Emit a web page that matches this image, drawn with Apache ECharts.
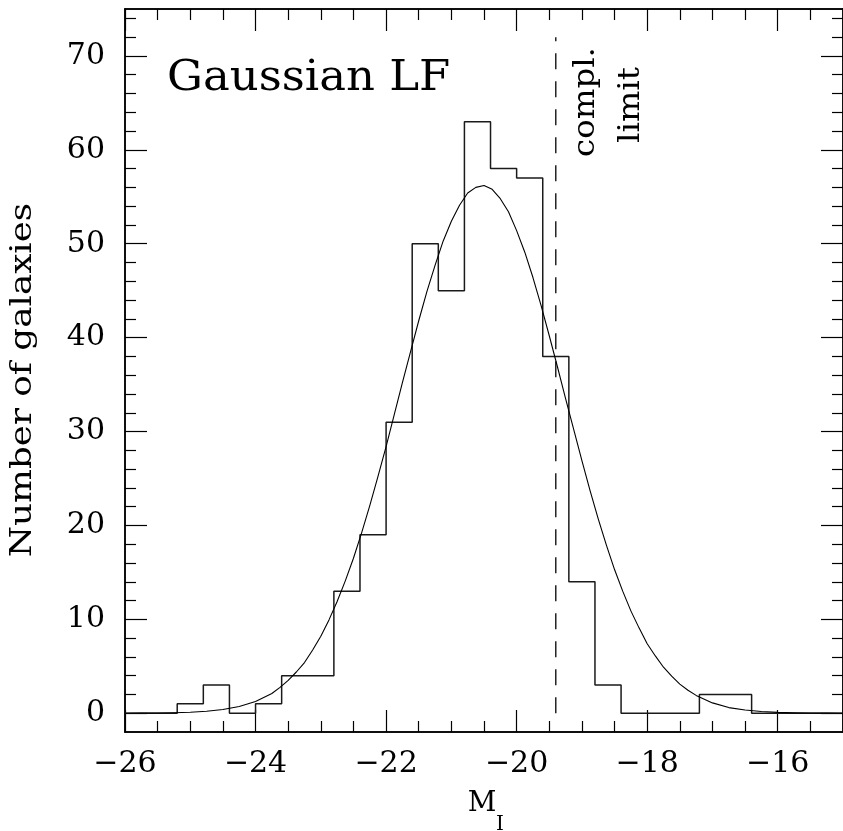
<!DOCTYPE html>
<html>
<head>
<meta charset="utf-8">
<script src="https://cdn.jsdelivr.net/npm/echarts@6/dist/echarts.min.js"></script>
<style>
html,body{margin:0;padding:0;background:#fff;}
#chart{width:843px;height:831px;}
</style>
</head>
<body>
<div id="chart"></div>
<script>
// ---- data ----
const xMin = -26, xMax = -15, yMin = -2, yMax = 75;
const xMajorTicks = [-26, -24, -22, -20, -18, -16];
const xMinorTicks = [-25.5, -25, -24.5, -23.5, -23, -22.5, -21.5, -21, -20.5, -19.5, -19, -18.5, -17.5, -17, -16.5, -15.5];
const yMajorTicks = [0, 10, 20, 30, 40, 50, 60, 70];
const yMinorTicks = [2, 4, 6, 8, 12, 14, 16, 18, 22, 24, 26, 28, 32, 34, 36, 38, 42, 44, 46, 48, 52, 54, 56, 58, 62, 64, 66, 68, 72, 74];

// histogram: left bin edges (bin width 0.4 mag) and counts
const binWidth = 0.4;
const binLeftEdges = [-26.0, -25.6, -25.2, -24.8, -24.4, -24.0, -23.6, -23.2, -22.8, -22.4, -22.0, -21.6, -21.2, -20.8,
                      -20.4, -20.0, -19.6, -19.2, -18.8, -18.4, -18.0, -17.6, -17.2, -16.8, -16.4, -16.0, -15.6, -15.2];
const binCounts    = [0, 0, 1, 3, 0, 1, 4, 4, 13, 19, 31, 50, 45, 63,
                      58, 57, 38, 14, 3, 0, 0, 0, 2, 2, 0, 0, 0, 0];

// fitted Gaussian LF curve
const curveX = [-26, -25.75, -25.5, -25.25, -25, -24.75, -24.5, -24.25, -24, -23.75,
                -23.625, -23.5, -23.375, -23.25, -23.125, -23, -22.875, -22.75, -22.625, -22.5,
                -22.375, -22.25, -22.125, -22, -21.875, -21.75, -21.625, -21.5, -21.375, -21.25,
                -21.125, -21, -20.875, -20.75, -20.625, -20.5, -20.375, -20.25, -20.125, -20,
                -19.875, -19.75, -19.625, -19.5, -19.375, -19.25, -19.125, -19, -18.875, -18.75,
                -18.625, -18.5, -18.375, -18.25, -18.125, -18, -17.875, -17.75, -17.625, -17.5,
                -17.375, -17.25, -17, -16.75, -16.5, -16.25, -16, -15.75, -15.5, -15.25, -15];
const curveY = [0.00, 0.01, 0.02, 0.05, 0.10, 0.21, 0.39, 0.72, 1.25, 2.1,
                2.75, 3.5, 4.39, 5.4, 6.74, 8.2, 9.94, 11.9, 14.1, 16.5,
                19.2, 22.1, 25.2, 28.4, 31.8, 35.2, 38.5, 41.8, 44.9, 47.7,
                50.3, 52.4, 54.1, 55.4, 56.0, 56.2, 55.8, 54.8, 53.4, 51.4,
                49.1, 46.4, 43.4, 40.2, 36.9, 33.5, 30.2, 26.9, 23.7, 20.7,
                17.9, 15.3, 13.0, 10.9, 9.09, 7.4, 6.1, 4.9, 3.94, 3.1,
                2.44, 1.9, 1.1, 0.6, 0.34, 0.18, 0.09, 0.04, 0.02, 0.01, 0.00];

// completeness limit (dashed line)
const complX = [-19.4, -19.4];
const complY = [0, 72];

// ---- build chart ----
const FONT = '"DejaVu Serif", "Liberation Serif", serif';
const histData = binLeftEdges.map((e, i) => [e, binCounts[i]]);
histData.push([binLeftEdges[binLeftEdges.length - 1] + binWidth, binCounts[binCounts.length - 1]]);
const curveData = curveX.map((x, i) => [x, curveY[i]]);
const complData = complX.map((x, i) => [x, complY[i]]);

const minus = v => (v < 0 ? '\u2212' + Math.abs(v) : String(v));
const lineStyle = { color: '#000', width: 1.5 };

function xAx(pos, ticks, len, labels) {
  return {
    type: 'value', min: xMin, max: xMax, position: pos,
    axisLine: { show: true, onZero: false, lineStyle: lineStyle },
    axisTick: { show: true, inside: true, length: len, customValues: ticks, lineStyle: { color: '#000', width: 1.2 } },
    axisLabel: labels ? { show: true, customValues: ticks, formatter: minus, fontFamily: FONT, fontSize: 30, color: '#000', margin: 17 } : { show: false },
    splitLine: { show: false }
  };
}
function yAx(pos, ticks, len, labels) {
  return {
    type: 'value', min: yMin, max: yMax, position: pos,
    axisLine: { show: true, onZero: false, lineStyle: lineStyle },
    axisTick: { show: true, inside: true, length: len, customValues: ticks, lineStyle: { color: '#000', width: 1.2 } },
    axisLabel: labels ? { show: true, customValues: ticks, fontFamily: FONT, fontSize: 30, color: '#000', margin: 20 } : { show: false },
    splitLine: { show: false }
  };
}

const chart = echarts.init(document.getElementById('chart'), null, { renderer: 'canvas' });
chart.setOption({
  animation: false,
  backgroundColor: '#fff',
  grid: { left: 125, top: 9, width: 722, height: 723 },
  xAxis: [
    xAx('bottom', xMajorTicks, 22, true),
    xAx('bottom', xMinorTicks, 11, false),
    xAx('top', xMajorTicks, 22, false),
    xAx('top', xMinorTicks, 11, false)
  ],
  yAxis: [
    yAx('left', yMajorTicks, 22, true),
    yAx('left', yMinorTicks, 11, false),
    yAx('right', yMajorTicks, 22, false),
    yAx('right', yMinorTicks, 11, false)
  ],
  series: [
    {
      type: 'line', name: 'histogram', data: histData, step: 'end',
      xAxisIndex: 0, yAxisIndex: 0, showSymbol: false, symbol: 'none',
      lineStyle: { color: '#1a1a1a', width: 1.5 }, clip: true
    },
    {
      type: 'line', name: 'Gaussian LF', data: curveData, smooth: false,
      xAxisIndex: 0, yAxisIndex: 0, showSymbol: false, symbol: 'none',
      lineStyle: { color: '#000', width: 1.1, join: 'round' }, clip: true
    },
    {
      type: 'line', name: 'compl. limit', data: complData,
      xAxisIndex: 0, yAxisIndex: 0, showSymbol: false, symbol: 'none',
      lineStyle: { color: '#000', width: 1.3, type: [16, 12] }
    }
  ],
  graphic: [
    { type: 'text', x: 167, y: 79, scaleX: 1.07,
      style: { text: 'Gaussian LF', fontFamily: FONT, fontSize: 42, fill: '#000', align: 'left', verticalAlign: 'middle' } },
    { type: 'text', x: 23, y: 380, rotation: Math.PI / 2, scaleX: 1.19,
      style: { text: 'Number of galaxies', fontFamily: FONT, fontSize: 30, fill: '#000', align: 'center', verticalAlign: 'middle' } },
    { type: 'text', x: 586, y: 102, rotation: Math.PI / 2, scaleX: 1.08,
      style: { text: 'compl.', fontFamily: FONT, fontSize: 30, fill: '#000', align: 'center', verticalAlign: 'middle' } },
    { type: 'text', x: 631, y: 105, rotation: Math.PI / 2, scaleX: 1.1,
      style: { text: 'limit', fontFamily: FONT, fontSize: 30, fill: '#000', align: 'center', verticalAlign: 'middle' } },
    { type: 'text', x: 482, y: 804,
      style: { text: 'M', fontFamily: FONT, fontSize: 28, fill: '#000', align: 'center', verticalAlign: 'middle' } },
    { type: 'text', x: 500, y: 825,
      style: { text: 'I', fontFamily: FONT, fontSize: 20, fill: '#000', align: 'center', verticalAlign: 'middle' } }
  ]
});
</script>
</body>
</html>
